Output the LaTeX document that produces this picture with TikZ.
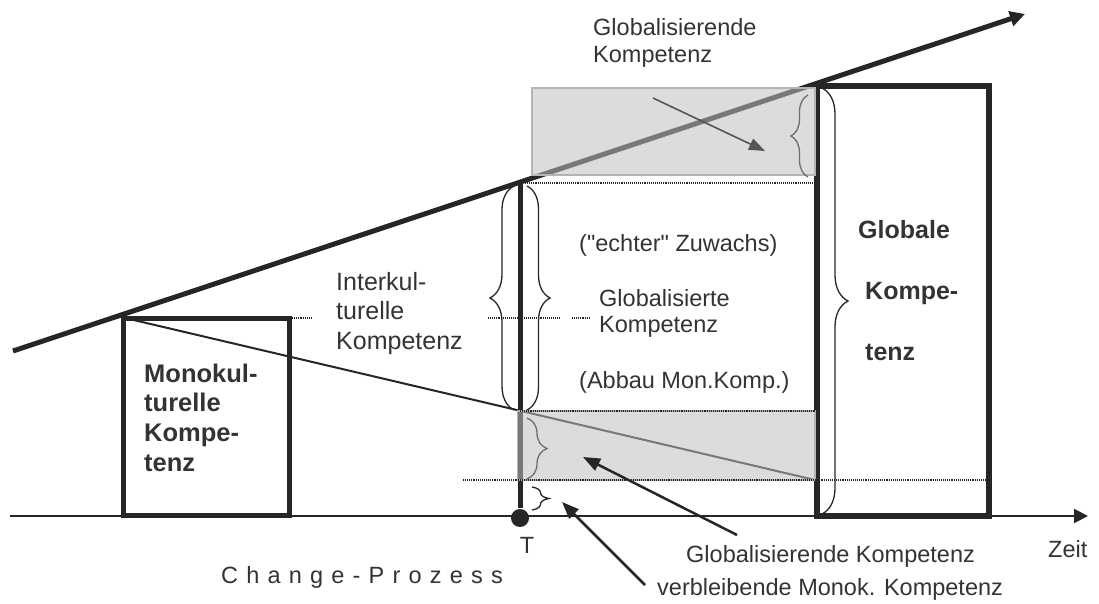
\documentclass[tikz,border=0pt]{standalone}
\usepackage{fontspec}
\setmainfont{Liberation Sans}
\newfontfamily\rawsans{Liberation Sans}
\usetikzlibrary{arrows.meta,decorations.pathreplacing}
\definecolor{ink}{HTML}{262626}
\definecolor{txt}{HTML}{333333}
\definecolor{boxgray}{HTML}{DCDCDC}
\definecolor{boxedge}{HTML}{B4B4B4}
\definecolor{midgray}{HTML}{555555}
\definecolor{bracegray}{HTML}{6E6E6E}
\newcommand\chgsp{\hspace{8.2bp}}
\begin{document}
\begin{tikzpicture}[x=1bp,y=1bp,
  heavy/.style={draw=ink, line width=5bp},
  thinline/.style={draw=ink, line width=2bp},
  dots/.style={draw=ink, line width=1.1bp, densely dotted},
  brc/.style={decorate, decoration={brace, amplitude=#1}, draw=ink, line width=1.3bp},
  gbrc/.style={brc=#1, draw=bracegray},
  grayfill/.style={fill=boxgray},
  grayover/.style={fill=boxgray, fill opacity=0.45, draw=boxedge, line width=1.5bp},
  lbl/.style={anchor=base west, inner sep=0, text=txt, font=\fontsize{23.5bp}{28bp}\selectfont},
  biglbl/.style={lbl, font=\fontsize{25bp}{30bp}\selectfont},
  blbl/.style={lbl, font=\fontsize{25.5bp}{30bp}\selectfont\bfseries},
  ptr/.style={draw=ink, line width=2.5bp, -{Triangle[length=17bp,width=13bp]}},
  gptr/.style={draw=midgray, line width=1.6bp, -{Triangle[length=16bp,width=12bp]}}
]
\useasboundingbox (0,0) rectangle (1099,-604);

% coordinates
\coordinate (L0) at (13,-351);
\coordinate (L1) at (1025,-14);
\coordinate (A0) at (10,-516);
\coordinate (A1) at (1088,-516);
\coordinate (Ttop) at (520,-182);
\coordinate (Tbot) at (520,-508);
\coordinate (D0) at (125,-318);
\coordinate (D1) at (815,-480);

% gray boxes underlay
\fill[grayfill] (532,-88) rectangle (815,-175);
\fill[grayfill] (517.5,-411) rectangle (815,-480);

% main lines
\draw[thinline, -{Triangle[length=14bp,width=14bp]}] (A0) -- (A1);
\draw[heavy, -{Triangle[length=15bp,width=15bp]}] (L0) -- (L1);
\draw[thinline] (D0) -- (D1);
\draw[heavy] (Ttop) -- (Tbot);
\draw[heavy] (123,-318) rectangle (289,-515);
\draw[draw=ink, line width=6bp] (817,-86) rectangle (989,-516);

% gray boxes overlay
\draw[grayover] (532,-88) rectangle (815,-175);
\draw[grayover] (517.5,-411) rectangle (815,-480);

% dotted lines
\draw[dots] (290,-318) -- (313,-318);
\draw[dots] (488,-318) -- (560,-318);
\draw[dots] (572,-318) -- (590,-318);
\draw[dots] (525,-183) -- (815,-183);
\draw[dots] (520,-411) -- (815,-411);
\draw[dots] (463,-480) -- (989,-480);

% braces
\draw[brc=24bp] (514,-410) -- (514,-186);
\draw[brc=23bp] (527,-186) -- (527,-410);
\draw[gbrc=17bp] (808,-177) -- (808,-95);
\draw[gbrc=20bp] (527,-418) -- (527,-479);
\draw[brc=17bp] (532,-487) -- (532,-510);
\draw[brc=26bp] (822,-88) -- (822,-514);

% pointer arrows
\coordinate (p1s) at (653,-98);  \coordinate (p1e) at (765,-151);
\coordinate (p2s) at (737,-535); \coordinate (p2e) at (583,-457);
\coordinate (p3s) at (645,-585); \coordinate (p3e) at (562,-502);
\draw[gptr] (p1s) -- (p1e);
\draw[ptr] (p2s) -- (p2e);
\draw[ptr] (p3s) -- (p3e);

% dot T
\node[circle, fill=ink, minimum size=18bp, inner sep=0] (dotT) at (520,-518) {};

% labels
\node[lbl] (tg1) at (593,-36) {Globalisierende};
\node[lbl] (tg2) at (593,-63) {Kompetenz};
\node[lbl, font=\fontsize{23.5bp}{28bp}\rawsans] (ech) at (579,-252) {("echter" Zuwachs)};
\node[lbl] (gz1) at (599,-307) {Globalisierte};
\node[lbl] (gz2) at (599,-332) {Kompetenz};
\node[lbl] (abb) at (579,-388) {(Abbau Mon.Komp.)};
\node[biglbl] (ik1) at (336,-291) {Interkul-};
\node[biglbl] (ik2) at (336,-320) {turelle};
\node[biglbl] (ik3) at (336,-349) {Kompetenz};
\node[blbl] (mk1) at (144,-382) {Monokul-};
\node[blbl] (mk2) at (144,-411) {turelle};
\node[blbl] (mk3) at (144,-441) {Kompe-};
\node[blbl] (mk4) at (144,-471) {tenz};
\node[blbl, font=\fontsize{25bp}{30bp}\selectfont\bfseries] (gk1) at (858,-239) {Globale};
\node[blbl, font=\fontsize{25bp}{30bp}\selectfont\bfseries] (gk2) at (865,-300) {Kompe-};
\node[blbl, font=\fontsize{25bp}{30bp}\selectfont\bfseries] (gk3) at (865,-360) {tenz};
\node[lbl, anchor=base] (tl) at (527,-553) {T};
\node[lbl] (chg) at (221,-583) {C\chgsp h\chgsp a\chgsp n\chgsp g\chgsp e\chgsp -\chgsp P\chgsp r\chgsp o\chgsp z\chgsp e\chgsp s\chgsp s};
\node[lbl] (glk) at (686,-562) {Globalisierende Kompetenz};
\node[lbl] (vmk) at (657,-595) {verbleibende Monok. Kompetenz};
\node[lbl] (zeit) at (1048,-557) {Zeit};
\end{tikzpicture}
\end{document}
